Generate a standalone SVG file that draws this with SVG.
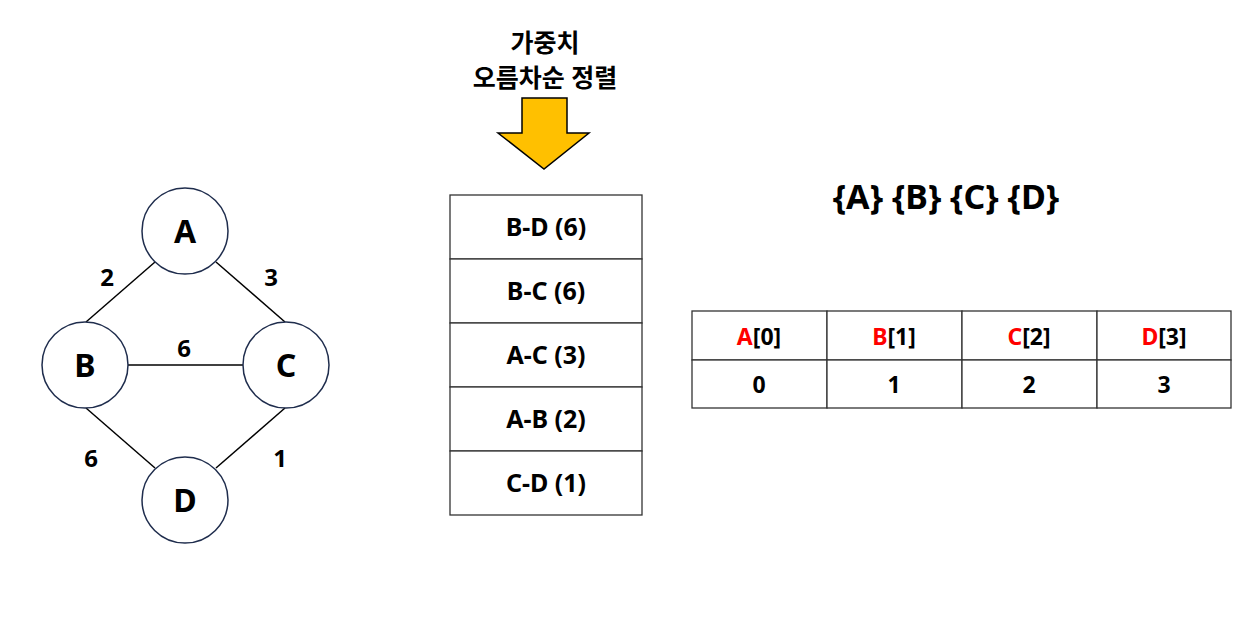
<svg xmlns="http://www.w3.org/2000/svg" width="1250" height="639" viewBox="0 0 1250 639">
<style>
text{font-family:"Noto Sans","Noto Sans CJK KR",sans-serif;font-weight:bold;fill:#000;text-anchor:middle}
.node{fill:#fff;stroke:#1f2d4d;stroke-width:1.5}
.edge{stroke:#000;stroke-width:1.5;fill:none}
.nl{font-size:32px}
.wl{font-size:24px}
.cell{fill:#fff;stroke:#333;stroke-width:1.3}
.st{font-size:25px}
.tt{font-size:23px}
.red{fill:#ff0000}
</style>
<rect width="1250" height="639" fill="#fff"/>
<g id="connectors">
<line class="edge" x1="155" y1="262" x2="86" y2="322"/>
<line class="edge" x1="216" y1="262" x2="285" y2="322"/>
<line class="edge" x1="128" y1="365" x2="243" y2="365"/>
<line class="edge" x1="86" y1="408" x2="155" y2="468"/>
<line class="edge" x1="285" y1="408" x2="216" y2="468"/>
<text class="wl" x="107" y="286">2</text>
<text class="wl" x="271" y="286">3</text>
<text class="wl" x="184" y="357">6</text>
<text class="wl" x="91" y="467">6</text>
<text class="wl" x="280" y="467">1</text>
</g>
<g id="node-A"><circle class="node" cx="185" cy="231" r="43"/><text class="nl" x="185" y="243">A</text></g>
<g id="node-B"><circle class="node" cx="85" cy="365" r="43"/><text class="nl" x="85" y="377">B</text></g>
<g id="node-C"><circle class="node" cx="286" cy="365" r="43"/><text class="nl" x="286" y="377">C</text></g>
<g id="node-D"><circle class="node" cx="185" cy="500" r="43"/><text class="nl" x="185" y="512">D</text></g>
<g id="sort-label">
<text x="545" y="52" style="font-size:25px">가중치</text>
<text x="545" y="87" style="font-size:25px">오름차순 정렬</text>
</g>
<g id="arrow">
<path d="M522,98 L567,98 L567,133 L589,133 L544,169 L498,133 L522,133 Z" fill="#ffc000" stroke="#000" stroke-width="1.5"/>
</g>
<g id="stack">
<rect class="cell" x="450" y="195" width="192" height="64"/>
<rect class="cell" x="450" y="259" width="192" height="64"/>
<rect class="cell" x="450" y="323" width="192" height="64"/>
<rect class="cell" x="450" y="387" width="192" height="64"/>
<rect class="cell" x="450" y="451" width="192" height="64"/>
<text class="st" x="546" y="236">B-D (6)</text>
<text class="st" x="546" y="300">B-C (6)</text>
<text class="st" x="546" y="364">A-C (3)</text>
<text class="st" x="546" y="428">A-B (2)</text>
<text class="st" x="546" y="492">C-D (1)</text>
</g>
<g id="sets">
<text x="946" y="209" style="font-size:34px">{A} {B} {C} {D}</text>
</g>
<g id="parent-table">
<rect class="cell" x="692" y="311" width="135" height="49"/>
<rect class="cell" x="827" y="311" width="135" height="49"/>
<rect class="cell" x="962" y="311" width="135" height="49"/>
<rect class="cell" x="1097" y="311" width="134" height="49"/>
<rect class="cell" x="692" y="360" width="135" height="48"/>
<rect class="cell" x="827" y="360" width="135" height="48"/>
<rect class="cell" x="962" y="360" width="135" height="48"/>
<rect class="cell" x="1097" y="360" width="134" height="48"/>
<text class="tt" x="759" y="345"><tspan class="red">A</tspan>[0]</text>
<text class="tt" x="894" y="345"><tspan class="red">B</tspan>[1]</text>
<text class="tt" x="1029" y="345"><tspan class="red">C</tspan>[2]</text>
<text class="tt" x="1164" y="345"><tspan class="red">D</tspan>[3]</text>
<text class="tt" x="759" y="393">0</text>
<text class="tt" x="894" y="393">1</text>
<text class="tt" x="1029" y="393">2</text>
<text class="tt" x="1164" y="393">3</text>
</g>
</svg>
